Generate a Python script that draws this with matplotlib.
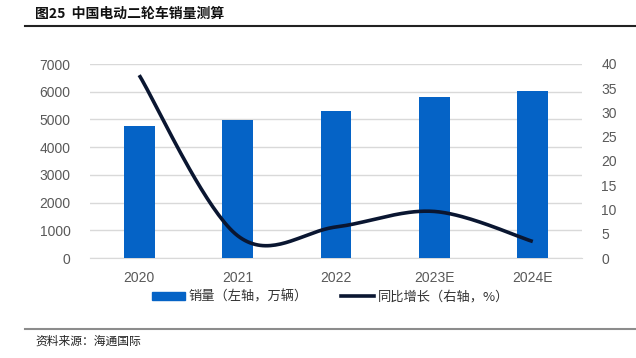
import matplotlib
matplotlib.use("Agg")
import matplotlib.pyplot as plt
import numpy as np
from matplotlib.lines import Line2D
from matplotlib.patches import Patch

plt.rcParams['font.family'] = ['Noto Sans CJK SC', 'DejaVu Sans']

years = ["2020", "2021", "2022", "2023E", "2024E"]
sales = [4765, 4985, 5305, 5810, 6010]
growth = [37.7, 4.6, 6.4, 9.6, 3.4]

BAR_C = "#0563C6"
LINE_C = "#0A1631"
TICK_C = "#595959"

fig = plt.figure(figsize=(6.36, 3.58), dpi=100)
ax = fig.add_axes([90/636, 1-258/358, 492/636, 194/358])
x = np.arange(len(years))
ax.bar(x, sales, width=0.315, color=BAR_C, zorder=3)
ax.set_xlim(-0.5, len(years)-0.5)
ax.set_ylim(0, 7000)
ax.set_yticks(np.arange(0, 7001, 1000))
ax.set_xticks(x)
ax.set_xticklabels(years)
ax.grid(axis='y', color="#D9D9D9", lw=1, zorder=0)
for s in ['top', 'right', 'left']:
    ax.spines[s].set_visible(False)
ax.spines['bottom'].set_color("#D9D9D9")
ax.tick_params(axis='both', length=0, colors=TICK_C, labelsize=10, pad=9)
ax.tick_params(axis='y', pad=14)

ax2 = ax.twinx()
ax2.set_ylim(0, 40)
ax2.set_yticks(np.arange(0, 41, 5))
for s in ax2.spines.values():
    s.set_visible(False)
ax2.tick_params(axis='y', length=0, colors=TICK_C, labelsize=10, pad=14)

for lbl in ax.get_xticklabels() + ax.get_yticklabels() + ax2.get_yticklabels():
    lbl.set_fontfamily(['Liberation Sans', 'DejaVu Sans'])

# Excel-style smoothed line (Catmull-Rom Bezier)
pts = np.column_stack([x.astype(float), np.array(growth, float)])
n = len(pts)
curve = []
for i in range(n-1):
    p0 = pts[i-1] if i > 0 else pts[i]
    p1 = pts[i]
    p2 = pts[i+1]
    p3 = pts[i+2] if i+2 < n else pts[i+1]
    c1 = p1 + (p2 - p0) / 6
    c2 = p2 - (p3 - p1) / 6
    t = np.linspace(0, 1, 40)[:, None]
    seg = (1-t)**3*p1 + 3*(1-t)**2*t*c1 + 3*(1-t)*t**2*c2 + t**3*p2
    curve.append(seg if i == 0 else seg[1:])
curve = np.vstack(curve)
ax2.plot(curve[:, 0], curve[:, 1], color=LINE_C, lw=2.6, solid_capstyle='butt', zorder=4)

handles = [Patch(color=BAR_C), Line2D([0], [0], color=LINE_C, lw=2.6)]
labels = ["销量（左轴，万辆）", "同比增长（右轴，%）"]
fig.legend(handles, labels, loc='center', bbox_to_anchor=(0.52, 1-297/358), ncol=2,
           frameon=False, fontsize=9.5, handlelength=2.5, handleheight=0.6,
           columnspacing=2.5, handletextpad=0.3, labelcolor="#333333")

fig.text(35/636, 1-14/358, "图25  中国电动二轮车销量测算", fontsize=10, fontweight='bold',
         va='center', ha='left', color="#111111")
fig.add_artist(Line2D([25/636, 1], [1-26/358, 1-26/358], color="#222222", lw=1.5))
fig.add_artist(Line2D([25/636, 1], [1-329/358, 1-329/358], color="#8C8C8C", lw=1.5))
fig.text(35/636, 1-341/358, "资料来源：海通国际", fontsize=8.5, va='center', ha='left', color="#222222")

fig.savefig("out.png", dpi=100)
